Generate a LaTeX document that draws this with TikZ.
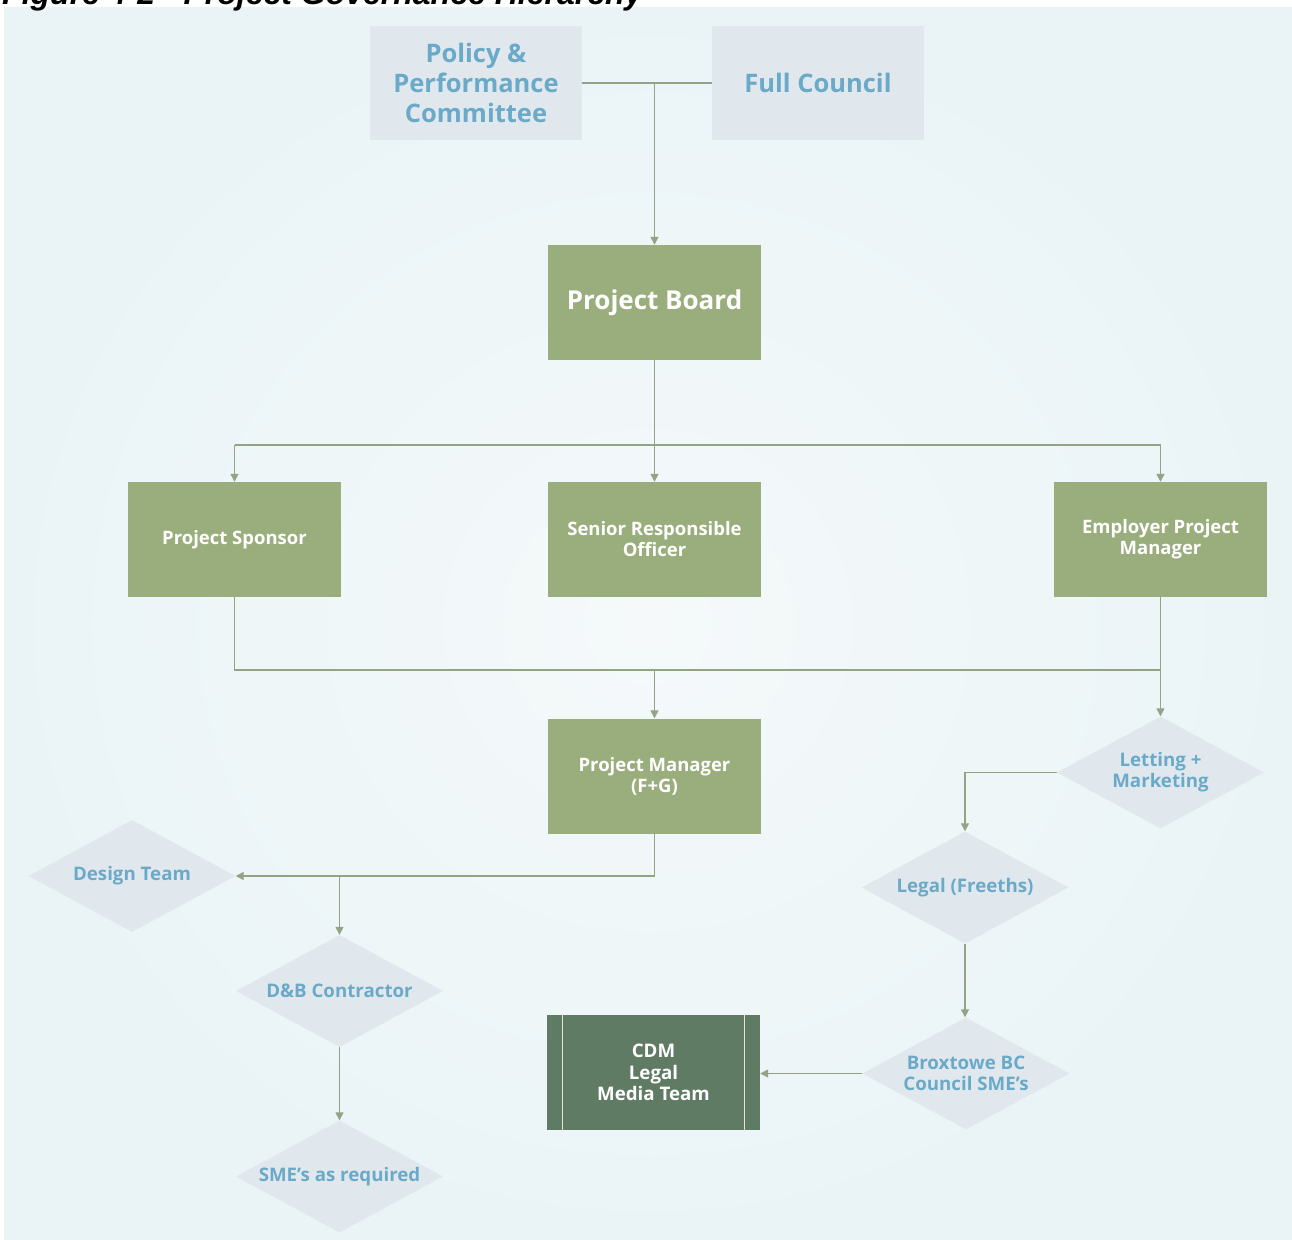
\documentclass[tikz,border=0pt]{standalone}
\usepackage{fontspec}
\setmainfont{Open Sans}
\newfontfamily\titlefont{Liberation Sans}
\usetikzlibrary{shapes.geometric,arrows.meta}
\definecolor{bgin}{HTML}{F5F9FA}
\definecolor{bgout}{HTML}{EAF4F7}
\definecolor{boxgrey}{HTML}{E0E8ED}
\definecolor{txtblue}{HTML}{6AAAC8}
\definecolor{boxgreen}{HTML}{9AAE7D}
\definecolor{darkgreen}{HTML}{5F7B64}
\definecolor{connc}{HTML}{94A384}
\begin{document}
\begin{tikzpicture}[x=1pt,y=-1pt,
  greybox/.style={rectangle, fill=boxgrey, text=txtblue, font=\bfseries\fontsize{25.5}{30}\selectfont,
    minimum width=212pt, minimum height=114pt, align=center, inner sep=0pt},
  greenbox/.style={rectangle, fill=boxgreen, text=white, font=\bfseries\fontsize{18.5}{21}\selectfont,
    minimum width=213pt, minimum height=115pt, align=center, inner sep=0pt},
  bigbox/.style={greenbox, font=\bfseries\fontsize{26}{30}\selectfont},
  darkbox/.style={greenbox, fill=darkgreen, font=\bfseries\fontsize{18.7}{21.5}\selectfont},
  dia/.style={diamond, fill=boxgrey, text=txtblue, font=\bfseries\fontsize{18.7}{21}\selectfont,
    minimum width=207pt, minimum height=112pt, aspect=1.85, align=center, inner sep=0pt},
  conn/.style={draw=connc, line width=1.4pt},
  arr/.style={conn, -{Triangle[width=8pt,length=8pt]}}
]
\useasboundingbox (0,0) rectangle (1292,1239);
\clip (0,0) rectangle (1292,1239);
\fill[white] (0,0) rectangle (1292,1239);
\shade[inner color=bgin, outer color=bgout] (4,8) rectangle (1292,1239);
\node[anchor=base west, inner sep=0pt, font=\titlefont\bfseries\itshape\fontsize{32}{36}\selectfont] (title) at (2,5) {Figure 4-2 - Project Governance Hierarchy};

% nodes
\node[greybox] (ppc) at (476,83) {Policy \&\\Performance\\Committee};
\node[greybox] (fc) at (818,83) {Full Council};
\node[bigbox] (pb) at (654.5,302.5) {Project Board};
\node[greenbox] (ps) at (234.5,539.5) {Project Sponsor};
\node[greenbox] (sro) at (654.5,539.5) {Senior Responsible\\Officer};
\node[greenbox] (epm) at (1160.5,539.5) {Employer Project\\Manager};
\node[greenbox] (pm) at (654.5,776) {Project Manager\\(F+G)};
\node[dia] (let) at (1160.5,772.5) {Letting +\\Marketing};
\node[dia] (legal) at (965,887.5) {Legal (Freeths)};
\node[dia] (brox) at (966,1073.5) {Broxtowe BC\\Council SME's};
\node[darkbox] (cdm) at (653.5,1072.5) {CDM\\Legal\\Media Team};
\draw[white!80!darkgreen, line width=0.9pt] ([xshift=16pt]cdm.north west) -- ([xshift=16pt]cdm.south west);
\draw[white!80!darkgreen, line width=0.9pt] ([xshift=-16pt]cdm.north east) -- ([xshift=-16pt]cdm.south east);
\node[dia] (design) at (132,876) {Design Team};
\node[dia] (db) at (339.5,991) {D\&B Contractor};
\node[dia] (sme) at (339.5,1176.5) {SME's as required};

% connectors
\coordinate (b1) at (654.5,445);
\coordinate (b2) at (654.5,670);
\draw[conn] (ppc.east) -- (fc.west);
\draw[arr] (pb.north |- ppc.east) -- (pb.north);
\draw[conn] (pb.south) -- (b1);
\draw[conn] (ps.north |- b1) -- (epm.north |- b1);
\draw[arr] (ps.north |- b1) -- (ps.north);
\draw[arr] (b1) -- (sro.north);
\draw[arr] (epm.north |- b1) -- (epm.north);
\draw[conn] (ps.south) -- (ps.south |- b2) -- (epm.south |- b2);
\draw[arr] (epm.south) -- (let.north);
\draw[arr] (b2) -- (pm.north);
\draw[arr] (let.west) -| (legal.north);
\draw[arr] (legal.south) -- (legal.south |- brox.north);
\draw[arr] (brox.west) -- (brox.west -| cdm.east);
\draw[arr] (pm.south) |- (design.east);
\draw[arr] (db.north |- design.east) -- (db.north);
\draw[arr] (db.south) -- (sme.north);
\end{tikzpicture}
\end{document}
